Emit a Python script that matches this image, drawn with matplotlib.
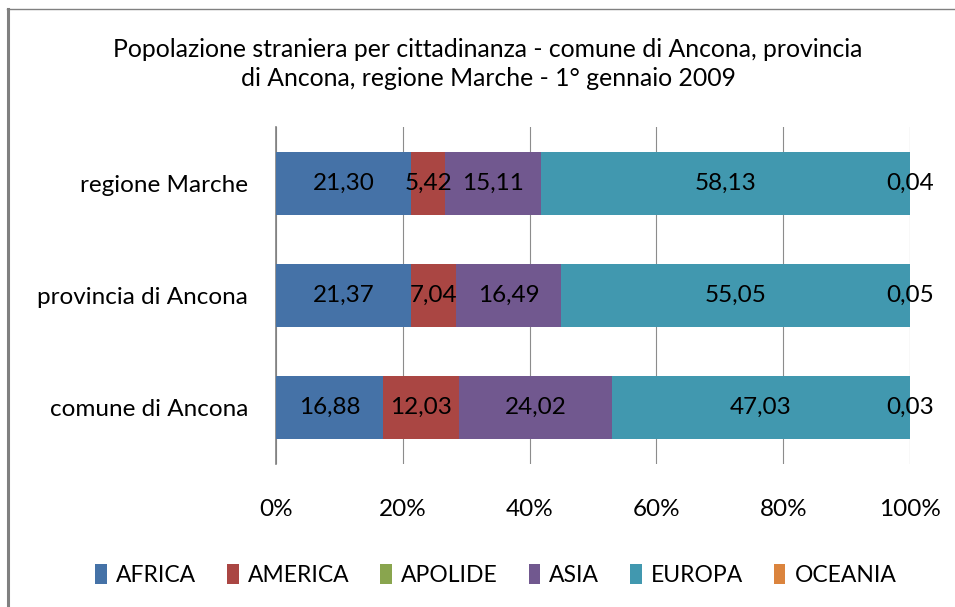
import matplotlib.pyplot as plt
import matplotlib.lines as mlines
from matplotlib.patches import Patch
import numpy as np

plt.rcParams['font.family'] = ['Lato', 'DejaVu Sans']

# data (bottom to top)
categories = ['comune di Ancona', 'provincia di Ancona', 'regione Marche']
series = ['AFRICA', 'AMERICA', 'APOLIDE', 'ASIA', 'EUROPA', 'OCEANIA']
africa = [16.88, 21.37, 21.30]
america = [12.03, 7.04, 5.42]
apolide = [0.00, 0.00, 0.00]
asia = [24.02, 16.49, 15.11]
europa = [47.03, 55.05, 58.13]
oceania = [0.03, 0.05, 0.04]
colors = ['#4572A7', '#AA4643', '#89A54E', '#71588F', '#4198AF', '#DB843D']
title = ('Popolazione straniera per cittadinanza - comune di Ancona, provincia\n'
         'di Ancona, regione Marche - 1° gennaio 2009')

values = [africa, america, apolide, asia, europa, oceania]
tot = np.sum(np.array(values), axis=0)

fig = plt.figure(figsize=(9.55, 6.07), dpi=100)
ax = fig.add_axes([276/955, 1 - 464/607, 634/955, 337/607])

y = np.arange(len(categories))
left = np.zeros(len(categories))
for name, vals, col in zip(series, values, colors):
    vals = np.array(vals)
    w = vals / tot * 100
    ax.barh(y, w, left=left, height=0.56, color=col, zorder=3)
    for yi, li, wi, v in zip(y, left, w, vals):
        if v > 0:
            ax.text(li + wi / 2, yi, f'{v:.2f}'.replace('.', ','), ha='center', va='center',
                    fontsize=17.5, color='black', zorder=4)
    left += w

ax.set_xlim(0, 100)
ax.set_ylim(-0.5, len(categories) - 0.5)
ax.set_xticks(np.arange(0, 101, 20))
ax.set_xticklabels([f'{t}%' for t in range(0, 101, 20)], fontsize=17.5)
ax.set_yticks(y)
ax.set_yticklabels(categories, fontsize=17.5)
ax.tick_params(axis='both', length=0)
ax.tick_params(axis='x', pad=25)
ax.tick_params(axis='y', pad=20)
ax.grid(axis='x', color='#8c8c8c', linewidth=0.8, zorder=0)
for s in ['top', 'right', 'bottom']:
    ax.spines[s].set_visible(False)
ax.spines['left'].set_color('#808080')
ax.spines['left'].set_linewidth(1.2)

fig.text(488/955, 1 - 64/607, title, ha='center', va='center', fontsize=17.8,
         linespacing=1.3)

handles = [Patch(facecolor=c, edgecolor='none') for c in colors]
fig.legend(handles, series, loc='center', bbox_to_anchor=(496/955, 1 - 575/607),
           ncol=6, frameon=False, fontsize=16.5, handlelength=0.5, handleheight=1.0,
           handletextpad=0.4, columnspacing=1.35)

# outer frame (left and top visible)
fig.add_artist(mlines.Line2D([8/955, 8/955], [0, 1 - 9/607], transform=fig.transFigure,
                             color='#808080', linewidth=2.2))
fig.add_artist(mlines.Line2D([7/955, 1], [1 - 9/607, 1 - 9/607], transform=fig.transFigure,
                             color='#808080', linewidth=1.0))

fig.savefig('out.png', dpi=100)
